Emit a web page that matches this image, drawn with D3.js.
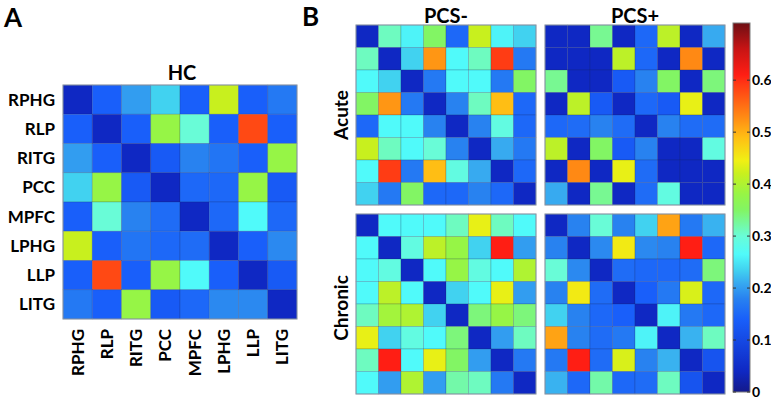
<!DOCTYPE html>
<html>
<head>
<meta charset="utf-8">
<script src="https://cdn.jsdelivr.net/npm/d3@7"></script>
<style>
  html, body { margin: 0; padding: 0; background: #fff; }
  svg { display: block; font-family: Lato, "Liberation Sans", Arial, sans-serif; font-weight: bold; }
</style>
</head>
<body>
<svg id="chart" width="771" height="402"></svg>
<script>
// ---------------- DATA ----------------
const regions = ["RPHG", "RLP", "RITG", "PCC", "MPFC", "LPHG", "LLP", "LITG"];

const hc = [
  [0.04, 0.14, 0.20, 0.235, 0.14, 0.42, 0.14, 0.17],
  [0.14, 0.04, 0.14, 0.38, 0.30, 0.14, 0.58, 0.14],
  [0.20, 0.14, 0.04, 0.13, 0.18, 0.165, 0.14, 0.38],
  [0.235, 0.38, 0.13, 0.04, 0.15, 0.15, 0.38, 0.13],
  [0.14, 0.30, 0.18, 0.155, 0.04, 0.15, 0.265, 0.15],
  [0.42, 0.14, 0.165, 0.15, 0.155, 0.04, 0.14, 0.185],
  [0.14, 0.58, 0.14, 0.38, 0.265, 0.14, 0.04, 0.13],
  [0.17, 0.14, 0.38, 0.13, 0.15, 0.185, 0.185, 0.04]
];

const pcsMinusAcute = [
  [0.04, 0.31, 0.26, 0.35, 0.15, 0.42, 0.26, 0.235],
  [0.31, 0.04, 0.235, 0.52, 0.265, 0.31, 0.59, 0.17],
  [0.265, 0.235, 0.04, 0.17, 0.265, 0.265, 0.17, 0.35],
  [0.35, 0.52, 0.17, 0.04, 0.18, 0.31, 0.49, 0.15],
  [0.15, 0.265, 0.265, 0.18, 0.04, 0.18, 0.29, 0.15],
  [0.42, 0.31, 0.265, 0.30, 0.18, 0.04, 0.21, 0.17],
  [0.265, 0.59, 0.17, 0.49, 0.29, 0.21, 0.04, 0.15],
  [0.235, 0.17, 0.35, 0.15, 0.15, 0.18, 0.15, 0.04]
];

const pcsPlusAcute = [
  [0.04, 0.04, 0.33, 0.04, 0.15, 0.41, 0.04, 0.21],
  [0.04, 0.04, 0.04, 0.41, 0.15, 0.04, 0.53, 0.04],
  [0.33, 0.04, 0.04, 0.13, 0.18, 0.35, 0.04, 0.34],
  [0.04, 0.41, 0.13, 0.04, 0.15, 0.13, 0.44, 0.04],
  [0.15, 0.155, 0.18, 0.155, 0.04, 0.18, 0.155, 0.155],
  [0.41, 0.04, 0.35, 0.13, 0.18, 0.04, 0.04, 0.29],
  [0.04, 0.53, 0.04, 0.44, 0.155, 0.04, 0.04, 0.04],
  [0.21, 0.04, 0.33, 0.04, 0.155, 0.29, 0.04, 0.04]
];

const pcsMinusChronic = [
  [0.04, 0.265, 0.265, 0.265, 0.31, 0.44, 0.31, 0.265],
  [0.265, 0.04, 0.29, 0.41, 0.38, 0.235, 0.61, 0.20],
  [0.265, 0.29, 0.04, 0.265, 0.38, 0.29, 0.265, 0.40],
  [0.265, 0.41, 0.265, 0.04, 0.235, 0.265, 0.44, 0.20],
  [0.31, 0.39, 0.40, 0.235, 0.04, 0.34, 0.38, 0.34],
  [0.44, 0.235, 0.29, 0.265, 0.34, 0.04, 0.20, 0.31],
  [0.31, 0.61, 0.265, 0.44, 0.35, 0.20, 0.04, 0.17],
  [0.265, 0.20, 0.40, 0.20, 0.32, 0.31, 0.17, 0.04]
];

const pcsPlusChronic = [
  [0.04, 0.18, 0.30, 0.18, 0.235, 0.51, 0.17, 0.215],
  [0.18, 0.04, 0.185, 0.45, 0.185, 0.18, 0.61, 0.15],
  [0.30, 0.185, 0.04, 0.155, 0.15, 0.15, 0.155, 0.34],
  [0.18, 0.45, 0.155, 0.04, 0.14, 0.17, 0.43, 0.15],
  [0.235, 0.18, 0.15, 0.14, 0.04, 0.26, 0.17, 0.15],
  [0.51, 0.18, 0.155, 0.17, 0.26, 0.04, 0.215, 0.31],
  [0.17, 0.61, 0.155, 0.43, 0.18, 0.215, 0.04, 0.12],
  [0.215, 0.15, 0.32, 0.15, 0.155, 0.31, 0.12, 0.04]
];

const colorTicks = [0, 0.1, 0.2, 0.3, 0.4, 0.5, 0.6];
const colorDomain = [0, 0.71];

// ---------------- COLOR SCALE (jet-like) ----------------
const stopVals = [0.00, 0.04, 0.14, 0.18, 0.21, 0.235, 0.265, 0.30, 0.35, 0.38, 0.42, 0.445, 0.49, 0.52, 0.59, 0.61, 0.66, 0.71];
const stopCols = ["#14198a", "#0f28c3", "#195ffa", "#2882f0", "#37aaf0", "#41d2f0", "#50fafa", "#69fcd7",
                  "#82f564", "#96f546", "#c8f01e", "#f0f014", "#ffbe14", "#ff9614", "#ff3c14", "#ff1e14", "#c81414", "#6e0f14"];
const color = d3.scaleLinear().domain(stopVals).range(stopCols).interpolate(d3.interpolateRgb).clamp(true);

const svg = d3.select("#chart");

function drawMatrix(data, x0, y0, size) {
  const x = d3.scaleBand().domain(d3.range(8)).range([x0, x0 + size]);
  const y = d3.scaleBand().domain(d3.range(8)).range([y0, y0 + size]);
  const g = svg.append("g");
  const cells = [];
  data.forEach((row, i) => row.forEach((v, j) => cells.push({ i, j, v })));
  g.selectAll("rect.cell").data(cells).enter().append("rect")
    .attr("class", "cell")
    .attr("x", d => x(d.j)).attr("y", d => y(d.i))
    .attr("width", x.bandwidth()).attr("height", y.bandwidth())
    .attr("fill", d => color(d.v))
    .attr("stroke", "rgba(30,40,90,0.28)").attr("stroke-width", 0.7);
  g.append("rect").attr("x", x0).attr("y", y0).attr("width", size).attr("height", size)
    .attr("fill", "none").attr("stroke", "#8c98a6").attr("stroke-width", 1);
  return { x, y };
}

// ---------------- PANEL A ----------------
const A = drawMatrix(hc, 63, 85, 234);
svg.append("text").attr("x", 4).attr("y", 27).attr("font-size", 26).attr("fill", "#000").text("A");
svg.append("text").attr("x", 182).attr("y", 80).attr("text-anchor", "middle").attr("font-size", 20).text("HC");

svg.selectAll("text.rowlab").data(regions).enter().append("text")
  .attr("class", "rowlab")
  .attr("x", 55).attr("y", (d, i) => A.y(i) + A.y.bandwidth() / 2)
  .attr("dy", "0.36em").attr("text-anchor", "end").attr("font-size", 17).text(d => d);

svg.selectAll("text.collab").data(regions).enter().append("text")
  .attr("class", "collab")
  .attr("transform", (d, i) => `translate(${A.x(i) + A.x.bandwidth() / 2 + 6},329) rotate(-90)`)
  .attr("text-anchor", "end").attr("font-size", 17).text(d => d);

// ---------------- PANEL B ----------------
const bSize = 180;
const bx = [356, 545], by = [25, 214];
drawMatrix(pcsMinusAcute, bx[0], by[0], bSize);
drawMatrix(pcsPlusAcute, bx[1], by[0], bSize);
drawMatrix(pcsMinusChronic, bx[0], by[1], bSize);
drawMatrix(pcsPlusChronic, bx[1], by[1], bSize);

svg.append("text").attr("x", 302).attr("y", 26).attr("font-size", 26).text("B");
svg.append("text").attr("x", bx[0] + bSize / 2).attr("y", 23).attr("text-anchor", "middle").attr("font-size", 20).text("PCS-");
svg.append("text").attr("x", bx[1] + bSize / 2).attr("y", 23).attr("text-anchor", "middle").attr("font-size", 20).text("PCS+");
svg.append("text").attr("transform", `translate(348,${by[0] + bSize / 2}) rotate(-90)`)
  .attr("text-anchor", "middle").attr("font-size", 19).text("Acute");
svg.append("text").attr("transform", `translate(348,${by[1] + bSize / 2 + 4}) rotate(-90)`)
  .attr("text-anchor", "middle").attr("font-size", 19).text("Chronic");

// ---------------- COLORBAR ----------------
const cbX = 733, cbW = 17, cbTop = 23, cbBottom = 392;
const cy = d3.scaleLinear().domain(colorDomain).range([cbBottom, cbTop]);
const defs = svg.append("defs");
const grad = defs.append("linearGradient").attr("id", "cbgrad")
  .attr("x1", 0).attr("y1", 1).attr("x2", 0).attr("y2", 0);
grad.selectAll("stop").data(stopVals).enter().append("stop")
  .attr("offset", d => (d - colorDomain[0]) / (colorDomain[1] - colorDomain[0]))
  .attr("stop-color", d => color(d));
svg.append("rect").attr("x", cbX).attr("y", cbTop).attr("width", cbW).attr("height", cbBottom - cbTop)
  .attr("fill", "url(#cbgrad)").attr("stroke", "#7d7d7d").attr("stroke-width", 1);

const tickG = svg.append("g");
tickG.selectAll("line.tl").data(colorTicks).enter().append("line")
  .attr("x1", cbX).attr("x2", cbX + 3).attr("y1", d => cy(d)).attr("y2", d => cy(d))
  .attr("stroke", "#333").attr("stroke-width", 1);
tickG.selectAll("line.tr").data(colorTicks).enter().append("line")
  .attr("x1", cbX + cbW - 3).attr("x2", cbX + cbW).attr("y1", d => cy(d)).attr("y2", d => cy(d))
  .attr("stroke", "#333").attr("stroke-width", 1);
tickG.selectAll("text").data(colorTicks).enter().append("text")
  .attr("x", cbX + cbW + 2).attr("y", d => cy(d)).attr("dy", "0.36em")
  .attr("font-size", 14).text(d => d === 0 ? "0" : d3.format(".1f")(d));
</script>
</body>
</html>
